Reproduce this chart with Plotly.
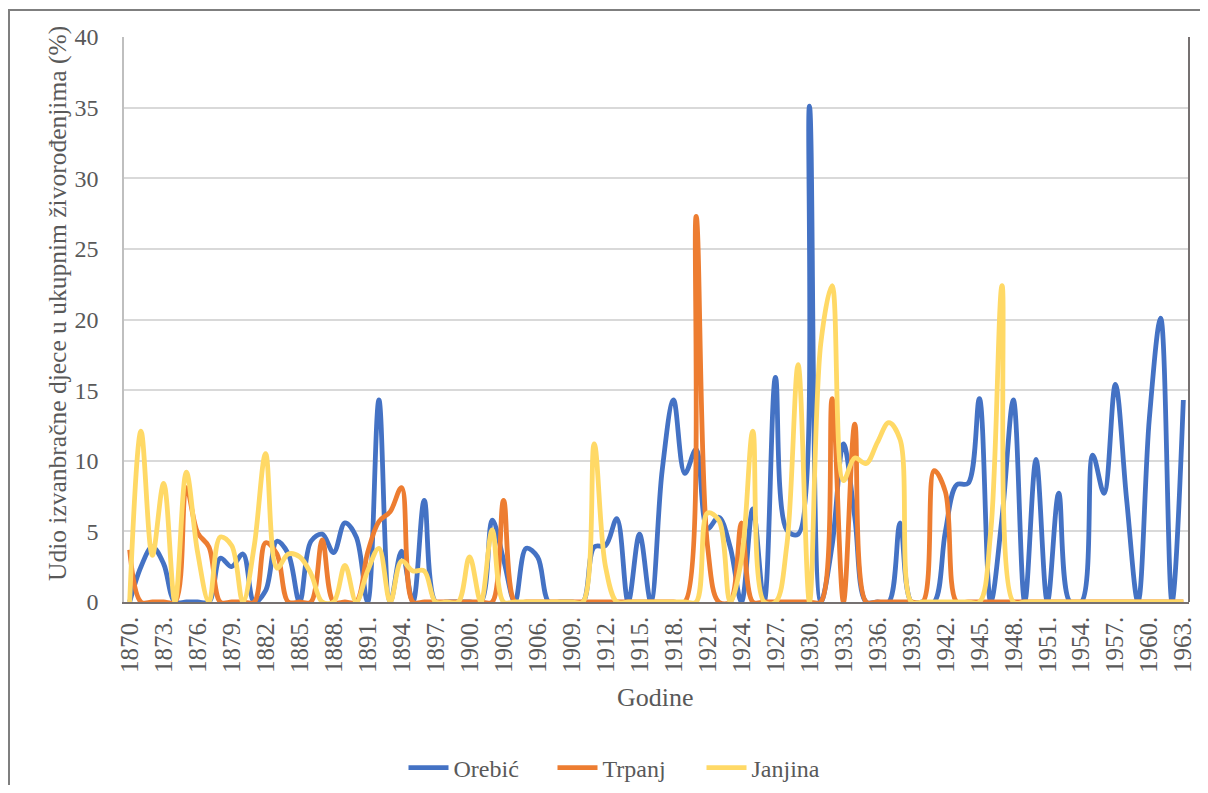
import plotly.graph_objects as go

years = list(range(1870, 1964))

orebic = [
    0, 2.5, 3.9, 2.7, 0, 0, 0, 0, 3.1, 2.5,          # 1870-1879
    3.4, 0, 0.8, 4.3, 3.4, 0, 4.3, 4.8, 3.5, 5.6,    # 1880-1889
    4.6, 0, 14.3, 0, 3.6, 0, 7.2, 0, 0, 0,           # 1890-1899
    0, 0, 5.8, 3.0, 0, 3.8, 3.2, 0, 0, 0,            # 1900-1909
    0, 3.9, 4.0, 5.9, 0, 4.8, 0, 9.3, 14.3, 9.1,     # 1910-1919
    10.8, 5.2, 6.0, 3.9, 0, 6.6, 0, 15.9, 5.1, 4.8,  # 1920-1929
    35.1, 0, 4.0, 11.2, 6.0, 0, 0, 0, 5.6, 0,        # 1930-1939
    0, 0, 5.0, 8.3, 8.4, 14.4, 0, 6.0, 14.3, 0,      # 1940-1949
    10.1, 0, 7.7, 0, 0, 10.4, 7.7, 15.4, 7.2, 0,     # 1950-1959
    13.0, 20.1, 0, 14.3,                             # 1960-1963
]

trpanj = [
    3.7, 0, 0, 0, 0, 8.1, 4.9, 3.9, 0, 0,            # 1870-1879
    0, 0, 4.2, 3.4, 0, 0, 0, 4.4, 0, 0,              # 1880-1889
    0, 3.5, 5.7, 6.4, 8.1, 0, 0, 0, 0, 0,            # 1890-1899
    0, 0, 0, 7.2, 0, 0, 0, 0, 0, 0,                  # 1900-1909
    0, 0, 0, 0, 0, 0, 0, 0, 0, 0,                    # 1910-1919
    27.3, 4.0, 0, 0, 5.6, 0, 0, 0, 0, 0,             # 1920-1929
    0, 0, 14.4, 0, 12.6, 0, 0, 0, 0, 0,              # 1930-1939
    0, 9.3, 7.8, 0, 0, 0, 0, 0, 0, 0,                # 1940-1949
    0, 0, 0, 0, 0, 0, 0, 0, 0, 0,                    # 1950-1959
    0, 0, 0, 0,                                      # 1960-1963
]

janjina = [
    0, 12.1, 3.3, 8.4, 0, 9.2, 3.5, 0, 4.6, 4.0,     # 1870-1879
    0, 4.0, 10.5, 2.4, 3.4, 3.2, 2.0, 0, 0, 2.6,     # 1880-1889
    0, 2.2, 3.8, 0, 2.9, 2.2, 2.2, 0, 0, 0,          # 1890-1899
    3.2, 0, 5.1, 0, 0, 0, 0, 0, 0, 0,                # 1900-1909
    0, 11.2, 2.5, 0, 0, 0, 0, 0, 0, 0,               # 1910-1919
    0, 6.3, 5.8, 0, 3.0, 12.1, 0, 0, 4.0, 16.8,      # 1920-1929
    0, 18.3, 22.4, 8.6, 10.2, 9.8, 11.3, 12.7, 11.5, 0,  # 1930-1939
    0, 0, 0, 0, 0, 0, 5.0, 22.4, 0, 0,               # 1940-1949
    0, 0, 0, 0, 0, 0, 0, 0, 0, 0,                    # 1950-1959
    0, 0, 0, 0,                                      # 1960-1963
]

series_names = ["Orebić", "Trpanj", "Janjina"]
series_colors = ["#4472C4", "#ED7D31", "#FFD966"]

tick_years = list(range(1870, 1964, 3))
tick_labels = [f"{y}." for y in tick_years]

FONT = "Liberation Serif"
TXT = "#595959"

fig = go.Figure()
for name, vals, col in zip(series_names, [orebic, trpanj, janjina], series_colors):
    fig.add_trace(go.Scatter(
        x=years, y=vals, name=name, mode="lines",
        line=dict(color=col, width=4.8, shape="spline", smoothing=1.0),
    ))

# page body has an 8px margin, so the figure starts at (8, 8) in the screenshot;
# keep the figure inside the window so the page does not overflow
OFF = 8
W, H = 1208 - 2 * OFF, 793 - 2 * OFF
L, R, T, B = 124 - OFF, 1189 - OFF, 37 - OFF, 602 - OFF
pw, ph = R - L, B - T

def px2x(p):
    return (p - OFF - L) / pw

def py2y(p):
    return (B - (p - OFF)) / ph

fig.update_layout(
    width=W, height=H,
    margin=dict(l=L, r=W - R, t=T, b=H - B, pad=0, autoexpand=False),
    paper_bgcolor="white", plot_bgcolor="white",
    font=dict(family=FONT, color=TXT, size=22),
    showlegend=True,
    legend=dict(orientation="h", x=px2x(627), y=py2y(768), xanchor="center", yanchor="middle",
                font=dict(family=FONT, size=24, color=TXT), itemwidth=40,
                entrywidth=94, entrywidthmode="pixels",
                tracegroupgap=0, bgcolor="rgba(0,0,0,0)"),
    xaxis=dict(
        range=[1869.5, 1963.5], tickmode="array", tickvals=tick_years, ticktext=tick_labels,
        tickangle=-90, showgrid=False, zeroline=False, showline=True, linecolor="#767171",
        linewidth=1.5, ticks="", tickfont=dict(family=FONT, size=25, color=TXT),
        ticklabelstandoff=3, automargin=False,
    ),
    yaxis=dict(
        range=[0, 40], tickmode="array", tickvals=list(range(0, 41, 5)),
        showgrid=True, gridcolor="#D9D9D9", gridwidth=1.5, zeroline=False,
        showline=True, linecolor="#BFBFBF", linewidth=1.5, ticks="",
        tickfont=dict(family=FONT, size=24, color=TXT), ticklabelstandoff=19,
        automargin=False,
    ),
    annotations=[
        dict(text="Godine", xref="paper", yref="paper", x=px2x(655), y=py2y(697),
             showarrow=False, xanchor="center", yanchor="middle",
             font=dict(family=FONT, size=26, color=TXT)),
        dict(text="Udio izvanbračne djece u ukupnim živorođenjima (%)", xref="paper", yref="paper",
             x=px2x(57), y=py2y(304), textangle=-90, showarrow=False,
             xanchor="center", yanchor="middle",
             font=dict(family=FONT, size=25.5, color=TXT)),
    ],
    shapes=[
        dict(type="line", xref="paper", yref="paper", x0=1, x1=1, y0=0, y1=1,
             line=dict(color="#767171", width=2)),
        dict(type="rect", xref="paper", yref="paper", x0=px2x(9), x1=px2x(1230),
             y0=py2y(830), y1=py2y(10), line=dict(color="#7F7F7F", width=2),
             fillcolor="rgba(0,0,0,0)", layer="below"),
    ],
)

fig.write_html("out.html")
